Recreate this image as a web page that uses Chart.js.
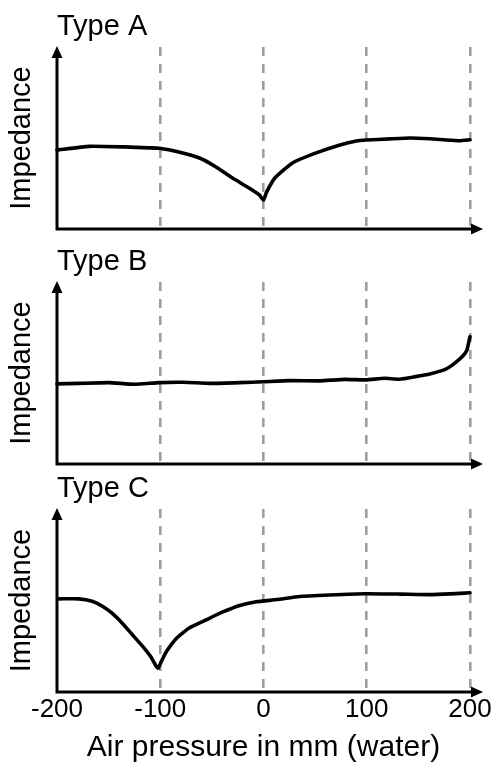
<!DOCTYPE html>
<html>
<head>
<meta charset="utf-8">
<script src="https://cdn.jsdelivr.net/npm/chart.js@4.4.1/dist/chart.umd.min.js"></script>
<style>
  html, body { margin: 0; padding: 0; background: #fff; }
  body { width: 494px; height: 766px; position: relative; overflow: hidden; }
  .panel { position: absolute; left: 0; width: 494px; }
</style>
</head>
<body>
<div class="panel" style="top:0;height:250px"><canvas id="chartA" width="494" height="250"></canvas></div>
<div class="panel" style="top:235px;height:250px"><canvas id="chartB" width="494" height="250"></canvas></div>
<div class="panel" style="top:462px;height:304px"><canvas id="chartC" width="494" height="304"></canvas></div>
<script>
const FONT = '"Liberation Sans", Arial, Helvetica, sans-serif';

const panelTitles = ['Type A', 'Type B', 'Type C'];
const yTitle = 'Impedance';
const xTitle = 'Air pressure in mm (water)';
const xTicks = [-200, -100, 0, 100, 200];

// Type A: peak at 0
const pressureA = [-200, -169, -135, -111, -101, -82, -62, -46, -30, -14, -4, 0, 3, 11, 28, 51, 74, 90, 100, 122, 142, 161, 181, 190, 200];
const impedanceA = [43.4, 45.4, 45.1, 44.6, 44.4, 42.3, 39.0, 34.1, 28.0, 22.5, 18.7, 15.9, 20.3, 28.0, 36.3, 41.8, 46.2, 48.4, 48.9, 49.5, 50.0, 49.6, 48.8, 48.5, 49.0];

// Type B: flat, rising at the right end
const pressureB = [-200, -179, -150, -125, -101, -77, -52, -23, 0, 25, 54, 79, 99, 117, 132, 147, 161, 176, 185, 193, 197, 200];
const impedanceB = [44.0, 44.3, 44.7, 43.8, 44.7, 44.9, 44.3, 44.7, 45.2, 45.8, 45.7, 46.5, 46.2, 47.1, 46.6, 48.0, 49.5, 52.0, 55.3, 59.3, 62.6, 69.9];

// Type C: peak at -100
const pressureC = [-198, -179, -166, -156, -147, -137, -127, -117, -109, -104, -102, -99, -94, -84, -72, -55, -40, -23, -7, 13, 35, 64, 99, 132, 161, 181, 200];
const impedanceC = [50.9, 50.9, 49.6, 46.9, 43.2, 37.7, 31.3, 24.9, 19.1, 14.2, 13.0, 16.6, 22.1, 29.5, 35.0, 39.6, 43.6, 47.3, 49.3, 50.5, 52.2, 53.0, 53.7, 53.5, 53.2, 53.6, 54.2];

const axisArrows = {
  id: 'axisArrows',
  afterDraw(chart) {
    const { ctx, chartArea } = chart;
    const { left, top, bottom } = chartArea;
    const xEnd = chart.scales.x.right + 13;
    ctx.save();
    ctx.strokeStyle = '#000';
    ctx.fillStyle = '#000';
    ctx.lineWidth = 3;
    ctx.lineCap = 'square';
    ctx.beginPath();
    ctx.moveTo(xEnd - 8, bottom);
    ctx.lineTo(left, bottom);
    ctx.lineTo(left, top + 8);
    ctx.stroke();
    ctx.beginPath();
    ctx.moveTo(xEnd, bottom);
    ctx.lineTo(xEnd - 12, bottom - 5.5);
    ctx.lineTo(xEnd - 12, bottom + 5.5);
    ctx.closePath();
    ctx.fill();
    ctx.beginPath();
    ctx.moveTo(left, top - 1);
    ctx.lineTo(left - 5.5, top + 11);
    ctx.lineTo(left + 5.5, top + 11);
    ctx.closePath();
    ctx.fill();
    ctx.restore();
  }
};

function makePanel(id, title, xs, ys, showTicks) {
  const points = xs.map((x, i) => ({ x: x, y: ys[i] }));
  new Chart(document.getElementById(id), {
    type: 'line',
    data: {
      datasets: [{
        data: points,
        borderColor: '#000',
        borderWidth: 3.6,
        pointRadius: 0,
        tension: 0.15,
        borderCapStyle: 'round',
        borderJoinStyle: 'round',
        clip: 6
      }]
    },
    options: {
      responsive: false,
      animation: false,
      events: [],
      layout: { padding: { top: 9.2, right: 24, left: 0, bottom: 0 } },
      plugins: {
        legend: { display: false },
        tooltip: { enabled: false },
        title: {
          display: true,
          text: title,
          align: 'start',
          fullSize: false,
          color: '#000',
          font: { family: FONT, size: 29, weight: 'normal' },
          padding: { top: 0, bottom: 3 }
        }
      },
      scales: {
        x: {
          type: 'linear',
          min: -200,
          max: 200,
          afterBuildTicks: (scale) => { scale.ticks = xTicks.map(v => ({ value: v })); },
          afterFit: (scale) => { scale.height = showTicks ? 74 : 21; },
          grid: {
            display: true,
            drawTicks: false,
            lineWidth: 2.6,
            color: (ctx) => (ctx.tick && ctx.tick.value === -200) ? 'rgba(0,0,0,0)' : '#9e9e9e'
          },
          border: { display: false, dash: [9, 8] },
          ticks: {
            display: showTicks,
            color: '#000',
            padding: 2,
            maxRotation: 0,
            autoSkip: false,
            font: { family: FONT, size: 26 }
          },
          title: {
            display: showTicks,
            text: xTitle,
            color: '#000',
            padding: { top: 0, bottom: 0 },
            font: { family: FONT, size: 30 }
          }
        },
        y: {
          type: 'linear',
          min: 0,
          max: 100,
          afterFit: (scale) => { scale.width = 57; },
          grid: { display: false },
          border: { display: false },
          ticks: { display: false },
          title: {
            display: true,
            text: yTitle,
            color: '#000',
            padding: { top: 5, bottom: 0 },
            font: { family: FONT, size: 29 }
          }
        }
      }
    },
    plugins: [axisArrows]
  });
}

makePanel('chartA', panelTitles[0], pressureA, impedanceA, false);
makePanel('chartB', panelTitles[1], pressureB, impedanceB, false);
makePanel('chartC', panelTitles[2], pressureC, impedanceC, true);
</script>
</body>
</html>
